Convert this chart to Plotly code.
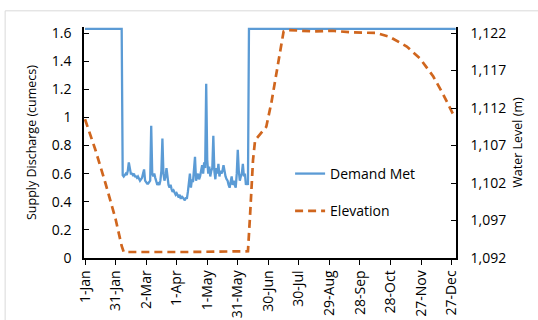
import plotly.graph_objects as go
import pandas as pd

YEAR_START = "2019-01-01"

tick_days = [0, 30, 60, 90, 120, 150, 180, 210, 240, 270, 300, 330, 360]
tick_labels = ["1-Jan", "31-Jan", "2-Mar", "1-Apr", "1-May", "31-May", "30-Jun",
               "30-Jul", "29-Aug", "28-Sep", "28-Oct", "27-Nov", "27-Dec"]

# Demand Met (cumecs), day-of-year -> value
demand_days = [0, 36] + list(range(37, 161)) + [161, 364]
demand_values = [1.63, 1.63] + [
    0.59, 0.58, 0.59, 0.60, 0.59, 0.62, 0.68, 0.62, 0.60, 0.60,
    0.59, 0.60, 0.58, 0.58, 0.57, 0.58, 0.56, 0.55, 0.56, 0.57,
    0.60, 0.63, 0.55, 0.54, 0.53, 0.53, 0.54, 0.55, 0.94, 0.60,
    0.58, 0.60, 0.57, 0.55, 0.52, 0.53, 0.52, 0.55, 0.62, 0.85,
    0.60, 0.55, 0.58, 0.64, 0.57, 0.52, 0.50, 0.52, 0.49, 0.47,
    0.48, 0.46, 0.45, 0.46, 0.44, 0.43, 0.45, 0.42, 0.44, 0.43,
    0.42, 0.41, 0.43, 0.42, 0.47, 0.55, 0.60, 0.50, 0.56, 0.54,
    0.62, 0.72, 0.55, 0.58, 0.60, 0.56, 0.58, 0.62, 0.66, 0.60,
    0.68, 0.64, 1.24, 0.70, 0.60, 0.65, 0.58, 0.62, 0.64, 0.87,
    0.62, 0.56, 0.64, 0.60, 0.67, 0.58, 0.62, 0.60, 0.62, 0.66,
    0.60, 0.58, 0.56, 0.55, 0.52, 0.50, 0.54, 0.58, 0.52, 0.55,
    0.52, 0.50, 0.60, 0.77, 0.62, 0.55, 0.58, 0.60, 0.67, 0.58,
    0.60, 0.52, 0.54, 0.52,
] + [1.63, 1.63]

# Elevation (m), day-of-year -> value
elev_days = [0, 10, 20, 30, 36, 38, 100, 160, 162, 165, 167, 173, 178, 183,
             190, 195, 200, 211, 225, 243, 260, 286, 299, 316, 329, 342, 351, 361, 364]
elev_values = [1110.5, 1106.5, 1102.0, 1097.2, 1093.6, 1092.8, 1092.8, 1092.9,
               1097.5, 1105.1, 1107.7, 1108.7, 1109.5, 1112.7, 1118.4, 1122.2,
               1122.4, 1122.3, 1122.2, 1122.3, 1122.1, 1122.0, 1121.5, 1120.2,
               1118.6, 1116.2, 1114.0, 1111.3, 1110.7]

start = pd.Timestamp(YEAR_START)
to_date = lambda days: [start + pd.Timedelta(days=d) for d in days]

FONT = "Open Sans"
BLUE = "#5B9BD5"
ORANGE = "#D0661E"

fig = go.Figure()
fig.add_trace(go.Scatter(
    x=to_date(demand_days), y=demand_values, name="Demand Met", mode="lines",
    line=dict(color=BLUE, width=2.3), legendgroup="a"))
fig.add_trace(go.Scatter(
    x=to_date(elev_days), y=elev_values, name="Elevation", mode="lines", yaxis="y2",
    line=dict(color=ORANGE, width=2.7, dash="8px,5px"), legendgroup="b"))

fig.update_layout(
    width=538, height=320,
    margin=dict(l=84, r=82, t=27, b=62),
    paper_bgcolor="white", plot_bgcolor="white",
    font=dict(family=FONT, size=14, color="#000000"),
    showlegend=True,
    legend=dict(x=0.554, y=0.433, xanchor="left", yanchor="top",
                bgcolor="rgba(0,0,0,0)", font=dict(size=14),
                tracegroupgap=16, itemwidth=30),
    xaxis=dict(
        type="date", automargin=False,
        range=[start - pd.Timedelta(days=1), start + pd.Timedelta(days=364.3)],
        tickvals=to_date(tick_days), ticktext=tick_labels, tickangle=-90,
        ticks="outside", ticklen=5, tickcolor="black", tickwidth=1.2,
        showline=True, linecolor="black", linewidth=1.5, showgrid=False, zeroline=False,
    ),
    yaxis=dict(
        automargin=False,
        range=[0, 1.643], tickvals=[0, 0.2, 0.4, 0.6, 0.8, 1.0, 1.2, 1.4, 1.6],
        ticks="inside", ticklen=5, tickcolor="black", tickwidth=1.2,
        showline=True, linecolor="black", linewidth=1.5, showgrid=False, zeroline=False,
        title=dict(text="Supply Discharge (cumecs)", standoff=12, font=dict(size=12.5)),
        ticklabelstandoff=8,
    ),
    yaxis2=dict(
        overlaying="y", side="right", range=[1092, 1122.8], automargin=False,
        tickvals=[1092, 1097, 1102, 1107, 1112, 1117, 1122], tickformat=",d",
        ticks="inside", ticklen=5, tickcolor="black", tickwidth=1.2,
        showline=True, linecolor="black", linewidth=1.5, showgrid=False, zeroline=False,
        title=dict(text="Water Level (m)", standoff=8, font=dict(size=12.5)),
        ticklabelstandoff=10,
    ),
    shapes=[
        dict(type="line", xref="paper", yref="paper", x0=-0.212, x1=1.3, y0=1.07, y1=1.07,
             line=dict(color="#D9D9D9", width=1)),
        dict(type="line", xref="paper", yref="paper", x0=-0.212, x1=-0.212, y0=1.07, y1=-0.4,
             line=dict(color="#D9D9D9", width=1)),
    ],
)

fig.write_html("out.html", config={"displayModeBar": False},
               post_script="document.body.style.margin='0px';")
